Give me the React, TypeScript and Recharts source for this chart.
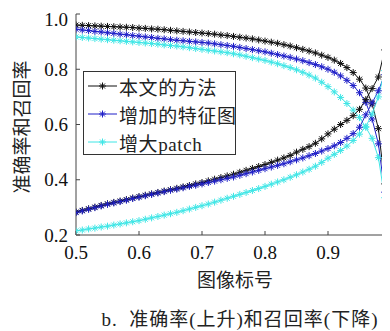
import React from 'react';
import { LineChart, Line, XAxis, YAxis, Legend } from 'recharts';

// thresholds on the x axis (图像标号)
const thresholds = [
  0.5, 0.51, 0.52, 0.53, 0.54, 0.55, 0.56, 0.57, 0.58, 0.59,
  0.6, 0.61, 0.62, 0.63, 0.64, 0.65, 0.66, 0.67, 0.68, 0.69,
  0.7, 0.71, 0.72, 0.73, 0.74, 0.75, 0.76, 0.77, 0.78, 0.79,
  0.8, 0.81, 0.82, 0.83, 0.84, 0.85, 0.86, 0.87, 0.88, 0.89,
  0.9, 0.91, 0.92, 0.93, 0.94, 0.95, 0.96, 0.97, 0.98, 0.99,
];

// recall (falling curves)
const recallOurs = [
  0.96, 0.959, 0.958, 0.957, 0.956, 0.955, 0.954, 0.953, 0.952, 0.951,
  0.949, 0.948, 0.946, 0.945, 0.943, 0.941, 0.939, 0.937, 0.935, 0.933,
  0.931, 0.929, 0.927, 0.924, 0.922, 0.919, 0.916, 0.913, 0.91, 0.906,
  0.902, 0.898, 0.894, 0.889, 0.884, 0.878, 0.872, 0.866, 0.859, 0.851,
  0.843, 0.833, 0.821, 0.806, 0.788, 0.764, 0.732, 0.675, 0.585, 0.385,
];
const recallFeat = [
  0.945, 0.942, 0.94, 0.937, 0.935, 0.932, 0.93, 0.927, 0.925, 0.922,
  0.92, 0.917, 0.915, 0.912, 0.91, 0.907, 0.905, 0.903, 0.901, 0.899,
  0.897, 0.895, 0.892, 0.889, 0.886, 0.883, 0.879, 0.875, 0.871, 0.867,
  0.863, 0.858, 0.853, 0.848, 0.843, 0.837, 0.831, 0.824, 0.817, 0.809,
  0.8, 0.789, 0.776, 0.76, 0.741, 0.715, 0.68, 0.62, 0.53, 0.355,
];
const recallPatch = [
  0.917, 0.915, 0.913, 0.911, 0.909, 0.907, 0.905, 0.903, 0.901, 0.899,
  0.897, 0.895, 0.893, 0.891, 0.888, 0.886, 0.884, 0.881, 0.878, 0.875,
  0.872, 0.869, 0.866, 0.863, 0.86, 0.856, 0.852, 0.847, 0.842, 0.837,
  0.832, 0.826, 0.82, 0.813, 0.806, 0.798, 0.789, 0.779, 0.768, 0.753,
  0.737, 0.718, 0.698, 0.676, 0.652, 0.625, 0.59, 0.55, 0.48, 0.335,
];

// precision (rising curves)
const precisionOurs = [
  0.283, 0.289, 0.295, 0.301, 0.307, 0.313, 0.318, 0.323, 0.328, 0.334,
  0.339, 0.344, 0.349, 0.354, 0.359, 0.364, 0.369, 0.374, 0.379, 0.385,
  0.39, 0.396, 0.402, 0.408, 0.414, 0.42, 0.427, 0.434, 0.441, 0.448,
  0.455, 0.463, 0.471, 0.479, 0.488, 0.5, 0.51, 0.52, 0.532, 0.548,
  0.566, 0.583, 0.6, 0.615, 0.632, 0.655, 0.69, 0.73, 0.772, 0.87,
];
const precisionFeat = [
  0.281, 0.287, 0.293, 0.299, 0.305, 0.311, 0.316, 0.321, 0.326, 0.332,
  0.337, 0.342, 0.347, 0.352, 0.357, 0.362, 0.366, 0.371, 0.376, 0.38,
  0.385, 0.39, 0.395, 0.4, 0.405, 0.41, 0.416, 0.422, 0.428, 0.434,
  0.44, 0.446, 0.452, 0.458, 0.465, 0.472, 0.479, 0.487, 0.495, 0.504,
  0.513, 0.523, 0.535, 0.55, 0.567, 0.59, 0.635, 0.678, 0.722, 0.78,
];
const precisionPatch = [
  0.215, 0.218, 0.222, 0.225, 0.229, 0.232, 0.236, 0.24, 0.244, 0.248,
  0.252, 0.257, 0.262, 0.267, 0.272, 0.277, 0.282, 0.288, 0.294, 0.3,
  0.306, 0.312, 0.319, 0.326, 0.333, 0.34, 0.347, 0.354, 0.361, 0.368,
  0.376, 0.384, 0.392, 0.4, 0.409, 0.418, 0.428, 0.438, 0.449, 0.463,
  0.478, 0.492, 0.506, 0.522, 0.542, 0.565, 0.592, 0.638, 0.7, 0.795,
];

const xTicks = [0.5, 0.6, 0.7, 0.8, 0.9];
const yTicks = [0.2, 0.4, 0.6, 0.8, 1.0];

const series = [
  { name: '本文的方法', color: '#111111', recall: 'rOurs', precision: 'pOurs' },
  { name: '增加的特征图', color: '#1f1fc8', recall: 'rFeat', precision: 'pFeat' },
  { name: '增大patch', color: '#3fe6e6', recall: 'rPatch', precision: 'pPatch' },
];

const data = thresholds.map((x, i) => ({
  x,
  rOurs: recallOurs[i],
  rFeat: recallFeat[i],
  rPatch: recallPatch[i],
  pOurs: precisionOurs[i],
  pFeat: precisionFeat[i],
  pPatch: precisionPatch[i],
}));

const FONT = "'Liberation Serif', 'Noto Sans CJK SC', serif";
const AXIS = '#444';

const starPath = (cx: number, cy: number) =>
  `M${cx - 3.5},${cy}L${cx + 3.5},${cy}M${cx},${cy - 3.5}L${cx},${cy + 3.5}` +
  `M${cx - 2.5},${cy - 2.5}L${cx + 2.5},${cy + 2.5}M${cx - 2.5},${cy + 2.5}L${cx + 2.5},${cy - 2.5}`;

const makeDot = (color: string, id: string) => (p: any) => (
  <path key={`${id}-${p.index}`} d={starPath(p.cx, p.cy)} stroke={color} strokeWidth={1} fill="none" />
);

const LegendBox = () => (
  <div
    style={{
      width: 151,
      height: 82,
      border: '1px solid #333',
      background: '#fff',
      fontFamily: FONT,
      fontSize: 19,
      color: '#222',
    }}
  >
    {series.map((s) => (
      <div key={s.name} style={{ height: 28, display: 'flex', alignItems: 'center' }}>
        <svg width={30} height={28} style={{ marginLeft: 4, flex: 'none' }}>
          <line x1={0} y1={14} x2={29} y2={14} stroke={s.color} strokeWidth={1} />
          <path d={starPath(14.5, 14)} stroke={s.color} strokeWidth={1} fill="none" />
        </svg>
        <span style={{ marginLeft: 1, letterSpacing: 0.6, whiteSpace: 'nowrap' }}>{s.name}</span>
      </div>
    ))}
  </div>
);

const YTitle = () => (
  <text
    x={14}
    y={119}
    transform="rotate(-90 14 119)"
    textAnchor="middle"
    dominantBaseline="central"
    fontFamily={FONT}
    fontSize={19}
    fill="#222"
  >
    准确率和召回率
  </text>
);

const XTitle = () => (
  <text
    x={227}
    y={272}
    textAnchor="middle"
    dominantBaseline="central"
    fontFamily={FONT}
    fontSize={19}
    fill="#222"
  >
    图像标号
  </text>
);

const App = () => (
  <div style={{ position: 'relative', width: 382, height: 323, overflow: 'hidden', background: '#fff' }}>
    <LineChart width={400} height={323} data={data} margin={{ top: 6, right: 17, bottom: 36, left: 0 }}>
      <XAxis
        dataKey="x"
        type="number"
        domain={[0.5, 1.0]}
        ticks={xTicks}
        allowDataOverflow
        tickFormatter={(v: number) => v.toFixed(1)}
        stroke={AXIS}
        tickSize={-4}
        tickMargin={15}
        height={60}
        tick={{ fill: '#111', fontFamily: FONT, fontSize: 19 }}
        label={XTitle}
      />
      <XAxis
        xAxisId="top"
        orientation="top"
        type="number"
        domain={[0.5, 1.0]}
        ticks={xTicks}
        allowDataOverflow
        stroke={AXIS}
        tickSize={-4}
        tick={false}
        height={0}
      />
      <YAxis
        type="number"
        domain={[0.2, 1.0]}
        ticks={yTicks}
        allowDataOverflow
        tickFormatter={(v: number) => v.toFixed(1)}
        stroke={AXIS}
        tickSize={-4}
        tickMargin={12}
        width={68}
        tick={{ fill: '#111', fontFamily: FONT, fontSize: 19 }}
        label={YTitle}
      />
      {series.map((s) => (
        <Line
          key={s.recall}
          dataKey={s.recall}
          stroke={s.color}
          strokeWidth={1}
          dot={makeDot(s.color, s.recall)}
          activeDot={false}
          isAnimationActive={false}
          legendType="none"
        />
      ))}
      {series.map((s) => (
        <Line
          key={s.precision}
          dataKey={s.precision}
          stroke={s.color}
          strokeWidth={1}
          dot={makeDot(s.color, s.precision)}
          activeDot={false}
          isAnimationActive={false}
          legendType="none"
        />
      ))}
      <Legend
        layout="vertical"
        align="center"
        verticalAlign="middle"
        content={LegendBox}
        wrapperStyle={{ position: 'absolute', left: 75, top: 63, width: 153, height: 84 }}
      />
    </LineChart>
    <div
      style={{
        position: 'absolute',
        left: 0,
        width: 464,
        top: 296,
        textAlign: 'center',
        fontFamily: FONT,
        fontSize: 19,
        color: '#222',
        letterSpacing: 1,
        whiteSpace: 'nowrap',
      }}
    >
      b.&nbsp; 准确率(上升)和召回率(下降)
    </div>
  </div>
);

export default App;
